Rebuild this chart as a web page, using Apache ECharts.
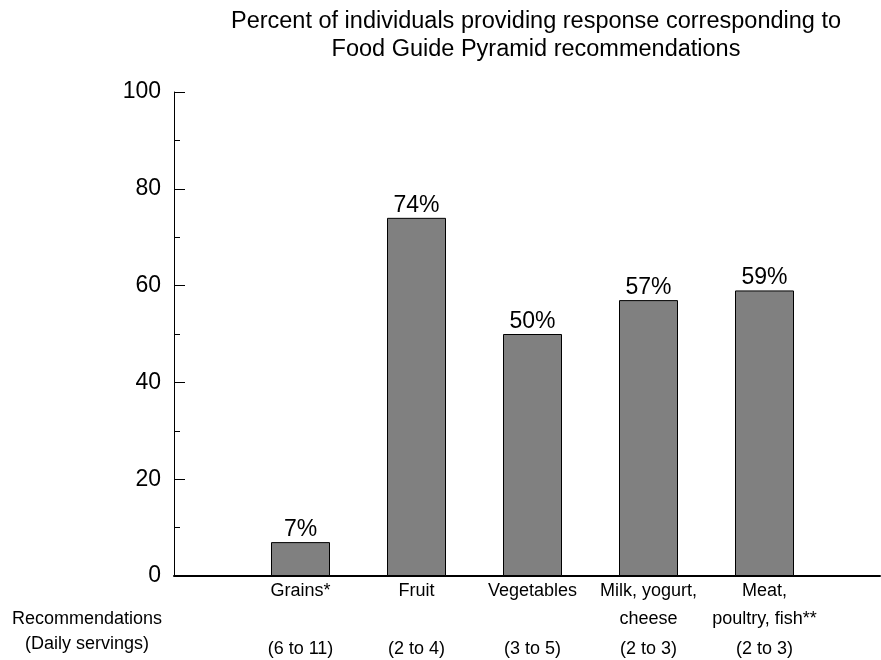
<!DOCTYPE html>
<html>
<head>
<meta charset="utf-8">
<title>Food Guide Pyramid recommendations</title>
<script src="https://cdn.jsdelivr.net/npm/echarts@6/dist/echarts.min.js"></script>
<style>
  html, body { margin: 0; padding: 0; background: #fff; }
  #chart { width: 881px; height: 660px; }
</style>
</head>
<body>
<div id="chart"></div>
<script>
// Food groups and their recommended daily servings
const categories = ['Grains*', 'Fruit', 'Vegetables', 'Milk, yogurt,\ncheese', 'Meat,\npoultry, fish**'];
const servings = ['(6 to 11)', '(2 to 4)', '(3 to 5)', '(2 to 3)', '(2 to 3)'];
// Percent of individuals whose answer matched the recommendation
const percents = [7, 74, 50, 57, 59];
// Value axis ticks
const yTicks = [0, 20, 40, 60, 80, 100];

const FONT = "'Liberation Sans', Arial, Helvetica, sans-serif";
const chart = echarts.init(document.getElementById('chart'), null, { renderer: 'canvas' });

chart.setOption({
  animation: false,
  backgroundColor: '#ffffff',
  textStyle: { fontFamily: FONT, color: '#000' },
  title: {
    text: 'Percent of individuals providing response corresponding to\nFood Guide Pyramid recommendations',
    left: 531,
    top: 3,
    textAlign: 'center',
    textStyle: { fontFamily: FONT, fontSize: 23.5, fontWeight: 'normal', color: '#000', lineHeight: 28 }
  },
  graphic: [{
    type: 'text',
    x: 87,
    y: 607,
    style: {
      text: 'Recommendations\n(Daily servings)',
      font: '18px ' + FONT,
      fill: '#000',
      align: 'center',
      verticalAlign: 'top',
      lineHeight: 25
    }
  }],
  grid: [
    // frame with the value axis and the baseline
    { left: 174, right: 1, top: 92, bottom: 84, outerBoundsMode: 'none' },
    // band holding the bars
    { left: 242.5, width: 580, top: 92, bottom: 84, outerBoundsMode: 'none' }
  ],
  xAxis: [
    {
      gridIndex: 0, type: 'value', min: 0, max: 1,
      axisLine: { show: true, lineStyle: { color: '#000', width: 2 } },
      axisTick: { show: false }, axisLabel: { show: false }, splitLine: { show: false }
    },
    {
      gridIndex: 1, type: 'category', data: categories, position: 'bottom',
      axisLine: { show: false }, axisTick: { show: false }, splitLine: { show: false },
      axisLabel: { interval: 0, margin: 1, fontFamily: FONT, fontSize: 18, lineHeight: 28, color: '#000' }
    },
    {
      gridIndex: 1, type: 'category', data: servings, position: 'bottom', offset: 64,
      axisLine: { show: false }, axisTick: { show: false }, splitLine: { show: false },
      axisLabel: { interval: 0, margin: 0, fontFamily: FONT, fontSize: 18, lineHeight: 18, color: '#000' }
    }
  ],
  yAxis: [
    {
      gridIndex: 0, type: 'value', min: yTicks[0], max: yTicks[yTicks.length - 1], interval: 20,
      axisLine: { show: true, lineStyle: { color: '#000', width: 1 } },
      axisTick: { show: true, inside: true, length: 11, lineStyle: { color: '#000', width: 1 } },
      minorTick: { show: true, splitNumber: 2, length: 6, lineStyle: { color: '#000', width: 1 } },
      splitLine: { show: false },
      axisLabel: { margin: 13, fontFamily: FONT, fontSize: 23, color: '#000' }
    },
    {
      gridIndex: 1, type: 'value', min: yTicks[0], max: yTicks[yTicks.length - 1], show: false
    }
  ],
  series: [{
    type: 'bar',
    xAxisIndex: 1,
    yAxisIndex: 1,
    data: percents,
    barWidth: 59,
    itemStyle: { color: '#808080', borderColor: '#000', borderWidth: 1 },
    label: {
      show: true, position: 'top', distance: 1,
      formatter: p => p.value + '%',
      fontFamily: FONT, fontSize: 23, color: '#000'
    }
  }]
});
</script>
</body>
</html>
